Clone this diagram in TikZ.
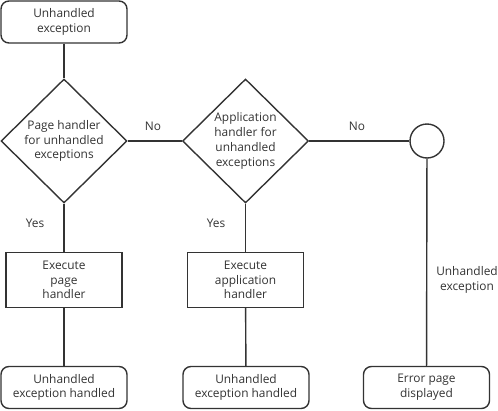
\documentclass[tikz,border=0pt]{standalone}
\usepackage{fontspec}
\setmainfont{Open Sans}
\usetikzlibrary{shapes.geometric}

\definecolor{inkgray}{HTML}{333333}

\tikzset{
  every node/.style={text=inkgray,font=\fontsize{11.9}{14.8}\selectfont,align=center},
  endbox/.style={draw=inkgray,line width=1.4pt,rounded corners=8pt,
    minimum width=126pt,minimum height=42pt,inner sep=0pt},
  actbox/.style={draw=inkgray,line width=1.4pt,
    minimum width=116pt,minimum height=55pt,inner sep=0pt},
  choice/.style={draw=inkgray,line width=1.4pt,diamond,aspect=1,
    minimum width=126pt,minimum height=124pt,inner sep=0pt},
  link/.style={draw=inkgray,line width=1.4pt}
}

\begin{document}
\begin{tikzpicture}[x=1pt,y=-1pt]
  \useasboundingbox (0,0) rectangle (498,410);

  \node[endbox] (start) at (64, 22) {Unhandled\\exception};

  \node[choice] (page) at (64, 141)
    {Page handler\\for unhandled\\exceptions};
  \node[choice] (app) at (245.5, 141)
    {Application\\handler for\\unhandled\\exceptions};
  \node[draw=inkgray,line width=1.4pt,circle,minimum size=34pt,inner sep=0pt]
    (last) at (427, 141) {};

  \node[actbox] (runpage) at (64, 280) {Execute\\page\\handler};
  \node[actbox] (runapp) at (245.5, 280) {Execute\\application\\handler};

  \node[endbox] (donepage) at (64, 387.5) {Unhandled\\exception handled};
  \node[endbox] (doneapp) at (246, 387.5) {Unhandled\\exception handled};
  \node[endbox] (errpage) at (426.5, 387.5) {Error page\\displayed};

  % connectors
  \draw[link] (start) -- (page);
  \draw[link] (page) -- (app);
  \draw[link] (app) -- (last);
  \draw[link] (page) -- (runpage);
  \draw[link] (runpage) -- (donepage);
  \draw[link] (app) -- (runapp);
  \draw[link] (runapp) -- (doneapp);
  \draw[link] (last) -- (errpage);

  % labels
  \node (nopage) at (153, 126) {No};
  \node (noapp) at (357, 126) {No};
  \node (yespage) at (35, 223) {Yes};
  \node (yesapp) at (216, 223) {Yes};
  \node (unh) at (467, 280) {Unhandled\\exception};
\end{tikzpicture}
\end{document}
